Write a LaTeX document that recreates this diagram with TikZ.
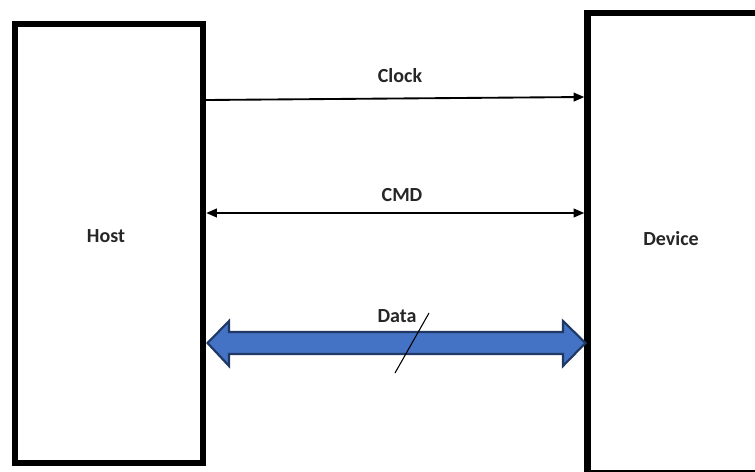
\documentclass[tikz,border=0pt]{standalone}
\usepackage{fontspec}
\setmainfont{Carlito}
\usetikzlibrary{calc,arrows.meta}
\definecolor{blockfill}{HTML}{4472C4}
\definecolor{blockline}{HTML}{1F3864}
\definecolor{txt}{HTML}{262626}
\tikzset{
  unitbox/.style={draw=black, line width=4.8pt, fill=none, inner sep=0pt, outer sep=auto},
  lbl/.style={font=\bfseries\fontsize{15pt}{18pt}\selectfont, text=txt, inner sep=0pt},
  sig/.style={line width=1.4pt, -{Triangle[length=8pt,width=6.5pt]}},
  sigboth/.style={line width=1.4pt, {Triangle[length=8pt,width=6.5pt]}-{Triangle[length=8pt,width=6.5pt]}},
  bus/.style={draw=blockline, fill=blockfill, line width=1.6pt, line join=miter},
  slash/.style={line width=0.8pt, draw=black}
}
\begin{document}
\begin{tikzpicture}[x=0.75pt,y=-0.75pt]
\useasboundingbox (0,0) rectangle (755,471);
\clip (0,0) rectangle (755,471);
% boxes
\node[unitbox, minimum width=188*0.75pt, minimum height=439*0.75pt] (host) at (109,243.5) {};
\node[unitbox, minimum width=178*0.75pt, minimum height=460*0.75pt] (dev) at (676.5,243) {};
% labels
\node[lbl] (hostlbl) at (106,236) {Host};
\node[lbl] (devlbl) at (671,239) {Device};
\node[lbl] (clklbl) at (400,76) {Clock};
\node[lbl] (cmdlbl) at (402,195) {CMD};
\node[lbl] (datalbl) at (397,316) {Data};
% clock
\draw[sig] ($(host.east)+(0,-143.5)$) -- ($(dev.west)+(0,-146)$);
% cmd
\draw[sigboth] ($(host.east)+(0,-30.5)$) -- ($(dev.west)+(0,-30)$);
% data bus
\filldraw[bus] (207.5,343) -- (229,321) -- (229,332) -- (563,332) -- (563,321) -- (585.5,343)
  -- (563,366) -- (563,354) -- (229,354) -- (229,366) -- cycle;
\draw[slash] (429,313) -- (395,373);
\end{tikzpicture}
\end{document}
